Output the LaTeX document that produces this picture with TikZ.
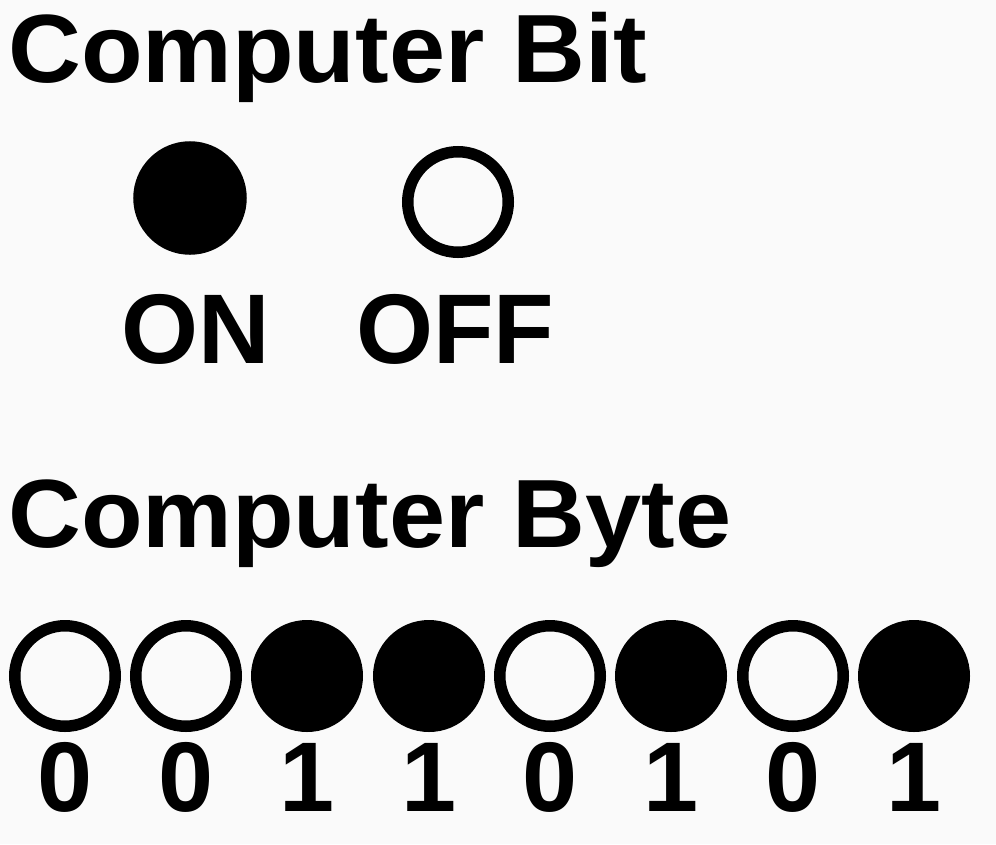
\documentclass[tikz,border=0pt]{standalone}
\usepackage{fontspec}
\setmainfont{Liberation Sans}
\definecolor{bgcol}{RGB}{250,250,250}
\begin{document}
\begin{tikzpicture}[x=1pt,y=-1pt,
  bitdot/.style={circle,draw=black,line width=11.5pt,minimum size=100.5pt,inner sep=0pt},
  ondot/.style={bitdot,fill=black},
  offdot/.style={bitdot},
  lbl/.style={inner sep=0pt,font=\fontsize{99}{99}\selectfont\bfseries},
  title/.style={inner sep=0pt,anchor=base west,font=\fontsize{97}{97}\selectfont\bfseries}]
\useasboundingbox (0,0) rectangle (996,844);
\fill[bgcol] (0,0) rectangle (996,844);
% Computer Bit
\node[title] (t1) at (8,82) {\scalebox{1.04}[1]{Computer Bit}};
\node[ondot,minimum size=102pt] (on) at (190,198) {};
\node[offdot] (off) at (458,202) {};
\node[lbl,anchor=base] (onl) at (196,363) {ON};
\node[lbl,anchor=base] (offl) at (455,363) {OFF};
% Computer Byte
\node[title] (t2) at (8,547) {\scalebox{1.04}[1]{Computer Byte}};
\foreach \i/\x/\s/\d in {1/65/offdot/0,2/186/offdot/0,3/307/ondot/1,4/429/ondot/1,5/550/offdot/0,6/671/ondot/1,7/793/offdot/0,8/914/ondot/1}{
  \node[\s] (b\i) at (\x,676) {};
  \node[lbl,anchor=base] (d\i) at (\x,811) {\d};
}
\end{tikzpicture}
\end{document}
